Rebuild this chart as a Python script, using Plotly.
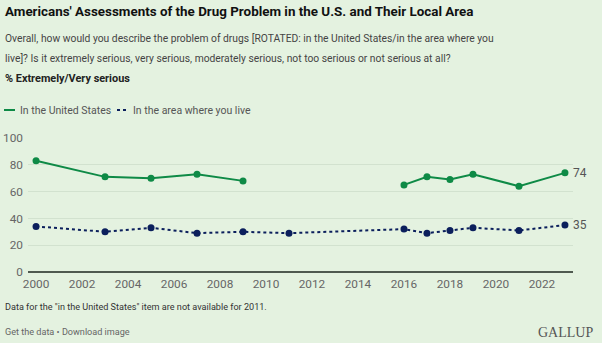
import plotly.graph_objects as go

# Survey years and shares rating the drug problem extremely/very serious
years_us = [2000, 2003, 2005, 2007, 2009, None, 2016, 2017, 2018, 2019, 2021, 2023]
pct_us = [83, 71, 70, 73, 68, None, 65, 71, 69, 73, 64, 74]

years_local = [2000, 2003, 2005, 2007, 2009, 2011, 2016, 2017, 2018, 2019, 2021, 2023]
pct_local = [34, 30, 33, 29, 30, 29, 32, 29, 31, 33, 31, 35]

series_names = ["In the United States", "In the area where you live"]
x_ticks = [2000, 2002, 2004, 2006, 2008, 2010, 2012, 2014, 2016, 2018, 2020, 2022]
y_ticks = [0, 20, 40, 60, 80, 100]

BG = "#E4F2E0"
GREEN = "#0E8A46"
NAVY = "#0B1F5C"
FONT = "Roboto, Liberation Sans, Arial, sans-serif"

W, H = 602, 343
ml, mr, mt, mb = 28, 29, 138, 71
pw, ph = W - ml - mr, H - mt - mb


def px_x(p):
    return (p - ml) / pw


def px_y(p):
    return 1 - (p - mt) / ph


fig = go.Figure()
fig.add_trace(go.Scatter(
    x=years_us, y=pct_us, mode="lines+markers", name=series_names[0],
    line=dict(color=GREEN, width=2), marker=dict(color=GREEN, size=7),
    connectgaps=False, showlegend=False, hoverinfo="x+y"))
fig.add_trace(go.Scatter(
    x=years_local, y=pct_local, mode="lines+markers", name=series_names[1],
    line=dict(color=NAVY, width=2, dash="dot"), marker=dict(color=NAVY, size=7),
    showlegend=False, hoverinfo="x+y"))

# End-of-line value labels
last_us = [v for v in pct_us if v is not None][-1]
last_local = pct_local[-1]
for xv, yv in [(years_us[-1], last_us), (years_local[-1], last_local)]:
    fig.add_annotation(x=xv, y=yv, text=str(yv), showarrow=False, xanchor="left",
                       xshift=6, font=dict(family=FONT, size=12, color="#555"))

texts = [
    ("<b>Americans' Assessments of the Drug Problem in the U.S. and Their Local Area</b>",
     4, 3, 13.4, "#111"),
    ("Overall, how would you describe the problem of drugs [ROTATED: in the United States/in the area where you",
     4, 31, 10.3, "#444"),
    ("live]? Is it extremely serious, very serious, moderately serious, not too serious or not serious at all?",
     4, 51, 10.3, "#444"),
    ("<b>% Extremely/Very serious</b>", 4, 71, 10.9, "#222"),
    (series_names[0], 19, 103, 10.5, "#555"),
    (series_names[1], 132, 103, 10.5, "#555"),
    ('Data for the "in the United States" item are not available for 2011.', 4, 301, 9.1, "#333"),
    ("Get the data \u2022 Download image", 4, 326, 9.1, "#666"),
]
for text, x, y, size, color in texts:
    fig.add_annotation(text=text, xref="paper", yref="paper",
                       x=px_x(x), y=px_y(y), xanchor="left", yanchor="top",
                       showarrow=False, align="left", borderpad=0,
                       font=dict(family=FONT, size=size, color=color))

fig.add_annotation(text="GALLUP", xref="paper", yref="paper", x=px_x(594), y=px_y(332),
                   xanchor="right", yanchor="middle", showarrow=False, borderpad=0,
                   font=dict(family="Liberation Serif, serif", size=14, color="#555"))

# Legend samples
fig.add_shape(type="line", xref="paper", yref="paper", x0=px_x(4), x1=px_x(15),
              y0=px_y(110), y1=px_y(110), line=dict(color=GREEN, width=2))
fig.add_shape(type="line", xref="paper", yref="paper", x0=px_x(117), x1=px_x(129),
              y0=px_y(110), y1=px_y(110), line=dict(color=NAVY, width=2, dash="dot"))

fig.update_layout(
    width=W, height=H, paper_bgcolor=BG, plot_bgcolor=BG,
    margin=dict(l=ml, r=mr, t=mt, b=mb),
    font=dict(family=FONT),
    xaxis=dict(range=[1999.65, 2023.35], tickvals=x_ticks, showgrid=False, zeroline=False,
               showline=False, ticks="", tickfont=dict(size=11.8, color="#666"),
               ticklabelstandoff=3, automargin=False, fixedrange=True),
    yaxis=dict(range=[0, 100], tickvals=y_ticks, showgrid=True, gridcolor="#D2E2CF",
               gridwidth=1, zeroline=True, zerolinecolor="#4F5A50", zerolinewidth=2,
               ticks="", tickfont=dict(size=11.8, color="#666"), ticklabelstandoff=4,
               automargin=False, fixedrange=True),
)

fig.write_html("out.html")
